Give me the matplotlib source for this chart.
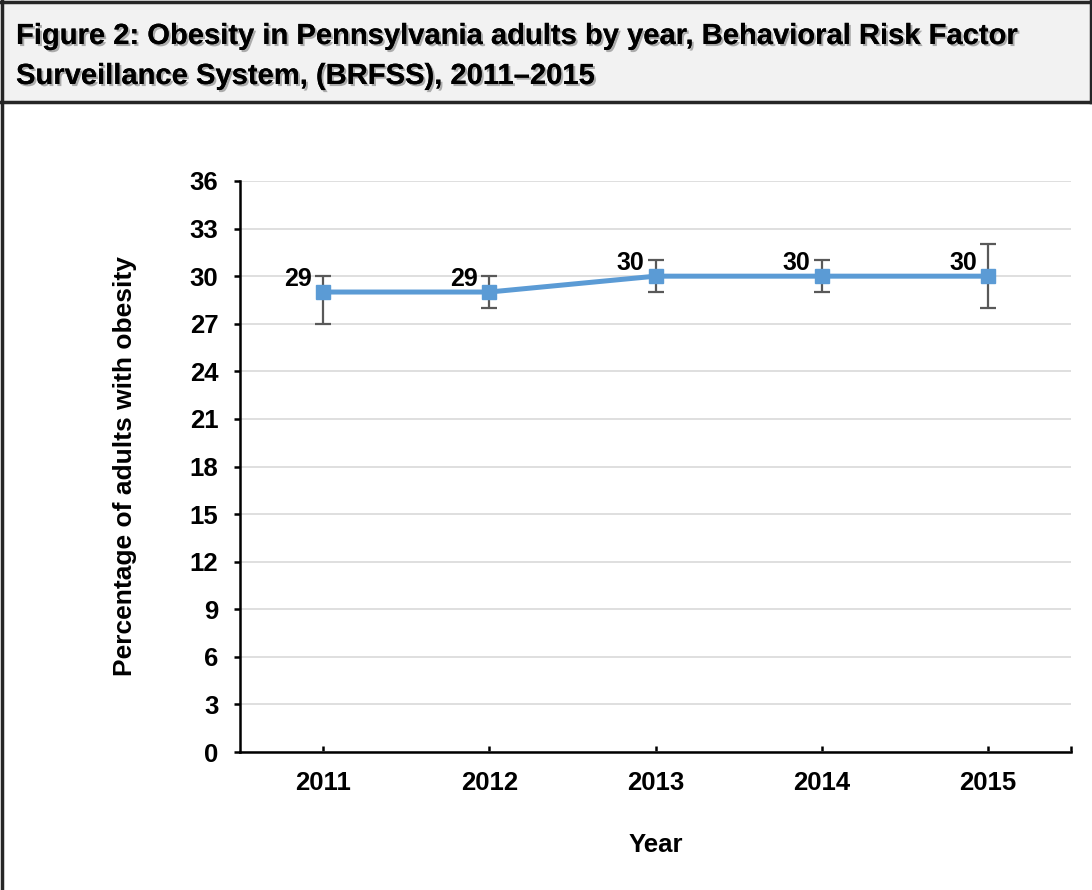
import matplotlib
matplotlib.use('Agg')
import matplotlib.pyplot as plt
import matplotlib.patheffects as pe
from matplotlib.patches import Rectangle
from matplotlib.lines import Line2D
import numpy as np

plt.rcParams['font.family'] = ['Liberation Sans', 'DejaVu Sans']
plt.rcParams['font.weight'] = 'bold'

years = ['2011', '2012', '2013', '2014', '2015']
obesity = [29, 29, 30, 30, 30]
ci_low = [27, 28, 29, 29, 28]
ci_high = [30, 30, 31, 31, 32]
yticks = list(range(0, 37, 3))

title_lines = ['Figure 2: Obesity in Pennsylvania adults by year, Behavioral Risk Factor',
               'Surveillance System, (BRFSS), 2011\u20132015']

fig = plt.figure(figsize=(10.92, 8.9), dpi=100)
W, H = 1092, 890

# title box
fig.patches.append(Rectangle((0, 1 - 102 / H), 1, 102 / H, transform=fig.transFigure,
                             facecolor='#f2f2f2', edgecolor='none', zorder=0))
border = '#262626'
fig.lines.append(Line2D([0, 1], [1 - 102 / H, 1 - 102 / H], transform=fig.transFigure,
                        color=border, lw=2.5))
fig.lines.append(Line2D([1.5 / W, 1.5 / W], [0, 1], transform=fig.transFigure, color=border, lw=2.5))
fig.lines.append(Line2D([0, 1], [1 - 1.5 / H, 1 - 1.5 / H], transform=fig.transFigure, color=border, lw=2.5))
fig.lines.append(Line2D([1 - 1.5 / W, 1 - 1.5 / W], [1 - 102 / H, 1], transform=fig.transFigure,
                        color=border, lw=2.5))

shadow = [pe.withSimplePatchShadow(offset=(1.5, -1.5), shadow_rgbFace='#9a9a9a', alpha=0.8), pe.Normal()]
for i, line in enumerate(title_lines):
    fig.text(16 / W, 1 - (36 + 40 * i) / H, line, fontsize=21, fontweight='bold',
             va='center', ha='left', path_effects=shadow)

ax = fig.add_axes([240 / W, 138 / H, 831 / W, 571 / H])
x = np.arange(len(years))
vals = np.array(obesity)
yerr = [vals - np.array(ci_low), np.array(ci_high) - vals]

ax.errorbar(x, vals, yerr=yerr, fmt='none', ecolor='#595959', elinewidth=1.6,
            capsize=5.5, capthick=1.6, zorder=3)
ax.plot(x, vals, color='#5b9bd5', lw=3.6, marker='s', markersize=9.5, zorder=4)

for xi, v in zip(x, obesity):
    ax.annotate(str(v), (xi, v), xytext=(-8, 4.5), textcoords='offset points',
                ha='right', va='baseline', fontsize=18, fontweight='bold')

ax.set_xlim(-0.5, len(years) - 0.5)
ax.set_ylim(0, 36)
ax.set_yticks(yticks)
ax.set_xticks(x)
ax.set_xticklabels(years)
ax.set_xticks([len(years) - 0.5], minor=True)
ax.yaxis.grid(True, color='#d9d9d9', lw=1.2)
ax.set_axisbelow(True)

for s in ['top', 'right']:
    ax.spines[s].set_visible(False)
for s in ['left', 'bottom']:
    ax.spines[s].set_linewidth(1.8)
    ax.spines[s].set_color('black')

ax.tick_params(axis='y', direction='out', length=4.5, width=1.8, pad=11, labelsize=18.5)
ax.tick_params(axis='x', which='both', direction='in', length=4.5, width=1.8, pad=14, labelsize=18.5)

ax.set_ylabel('Percentage of adults with obesity', fontsize=19, fontweight='bold', labelpad=38)
ax.set_xlabel('Year', fontsize=18.5, fontweight='bold', labelpad=27)

fig.savefig('out.png', dpi=100)
